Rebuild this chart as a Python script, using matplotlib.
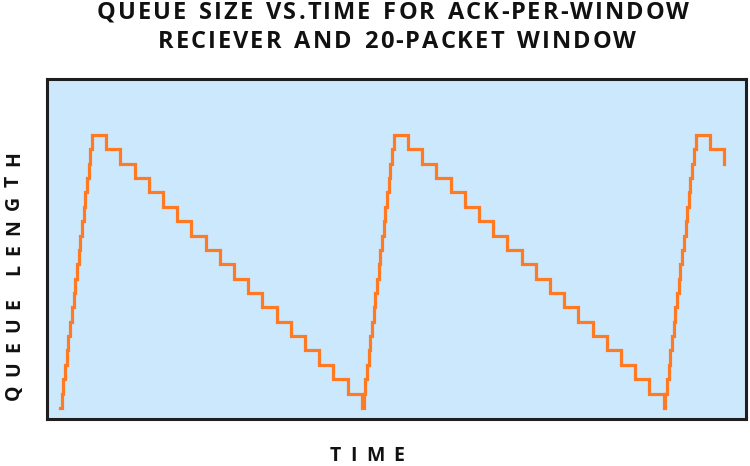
import matplotlib
matplotlib.use("Agg")
import matplotlib.pyplot as plt
from matplotlib.font_manager import FontProperties

# queue length vs time (time in "one packet service" units)
times = [
    # cycle 1: window of packets arrives, then drained one per unit
    0.00, 0.12, 0.24, 0.36, 0.47, 0.59, 0.71, 0.83, 0.95, 1.07,
    1.18, 1.30, 1.42, 1.54, 1.66, 1.78, 1.89, 2.01, 2.13, 2.25,
    3.25, 4.25, 5.25, 6.25, 7.25, 8.25, 9.25, 10.25, 11.25, 12.25,
    13.25, 14.25, 15.25, 16.25, 17.25, 18.25, 19.25, 20.25,
    # cycle 2
    21.25, 21.37, 21.49, 21.61, 21.72, 21.84, 21.96, 22.08, 22.20, 22.32,
    22.43, 22.55, 22.67, 22.79, 22.91, 23.03, 23.14, 23.26, 23.38, 23.50,
    24.50, 25.50, 26.50, 27.50, 28.50, 29.50, 30.50, 31.50, 32.50, 33.50,
    34.50, 35.50, 36.50, 37.50, 38.50, 39.50, 40.50, 41.50,
    # cycle 3 (cut off)
    42.50, 42.62, 42.74, 42.86, 42.97, 43.09, 43.21, 43.33, 43.45, 43.57,
    43.68, 43.80, 43.92, 44.04, 44.16, 44.28, 44.39, 44.51, 44.63, 44.75,
    45.75, 46.75,
]
queue = [
    0, 1, 2, 3, 4, 5, 6, 7, 8, 9, 10, 11, 12, 13, 14, 15, 16, 17, 18, 19,
    18, 17, 16, 15, 14, 13, 12, 11, 10, 9, 8, 7, 6, 5, 4, 3, 2, 1,
    0, 1, 2, 3, 4, 5, 6, 7, 8, 9, 10, 11, 12, 13, 14, 15, 16, 17, 18, 19,
    18, 17, 16, 15, 14, 13, 12, 11, 10, 9, 8, 7, 6, 5, 4, 3, 2, 1,
    0, 1, 2, 3, 4, 5, 6, 7, 8, 9, 10, 11, 12, 13, 14, 15, 16, 17, 18, 19,
    18, 17,
]

title_lines = ["QUEUE SIZE VS.TIME FOR ACK-PER-WINDOW",
               "RECIEVER AND 20-PACKET WINDOW"]
xlabel = "TIME"
ylabel = "QUEUE LENGTH"

W, H = 750, 466
fig = plt.figure(figsize=(W / 100, H / 100), dpi=100)
ax = fig.add_axes([47 / W, 1 - 419 / H, 699 / W, 340 / H])
ax.set_facecolor("#cce8fc")
ax.plot(times, queue, drawstyle="steps-post", color="#ff7a22", lw=2.3,
        solid_joinstyle="miter")
ax.set_xlim(-0.92, 48.3)
ax.set_ylim(-0.77, 22.9)
ax.set_xticks([])
ax.set_yticks([])
for s in ax.spines.values():
    s.set_linewidth(2.2)
    s.set_color("#1e1e1e")

renderer = fig.canvas.get_renderer()


def spaced(text, x, y, size, track, vertical=False, space_extra=0):
    # draw text char by char with extra spacing (pixels), centred on x (or y)
    fp = FontProperties(family="Open Sans", weight="bold", size=size)
    widths = [renderer.get_text_width_height_descent(c, fp, ismath=False)[0]
              + (space_extra if c == " " else 0) for c in text]
    total = sum(widths) + track * (len(text) - 1)
    pos = -total / 2
    for c, w in zip(text, widths):
        if vertical:
            fig.text(x / W, 1 - (y - pos) / H, c, fontproperties=fp,
                     rotation=90, rotation_mode="anchor",
                     ha="left", va="baseline", color="#111111")
        else:
            fig.text((x + pos) / W, 1 - y / H, c, fontproperties=fp,
                     ha="left", va="baseline", color="#111111")
        pos += w + track


spaced(title_lines[0], 393, 19, 17, 2, space_extra=3)
spaced(title_lines[1], 397, 48.5, 17, 2, space_extra=3)
spaced(xlabel, 367, 461, 14, 9)
spaced(ylabel, 19, 276, 14, 9, vertical=True)

fig.savefig("out.png", dpi=100)
